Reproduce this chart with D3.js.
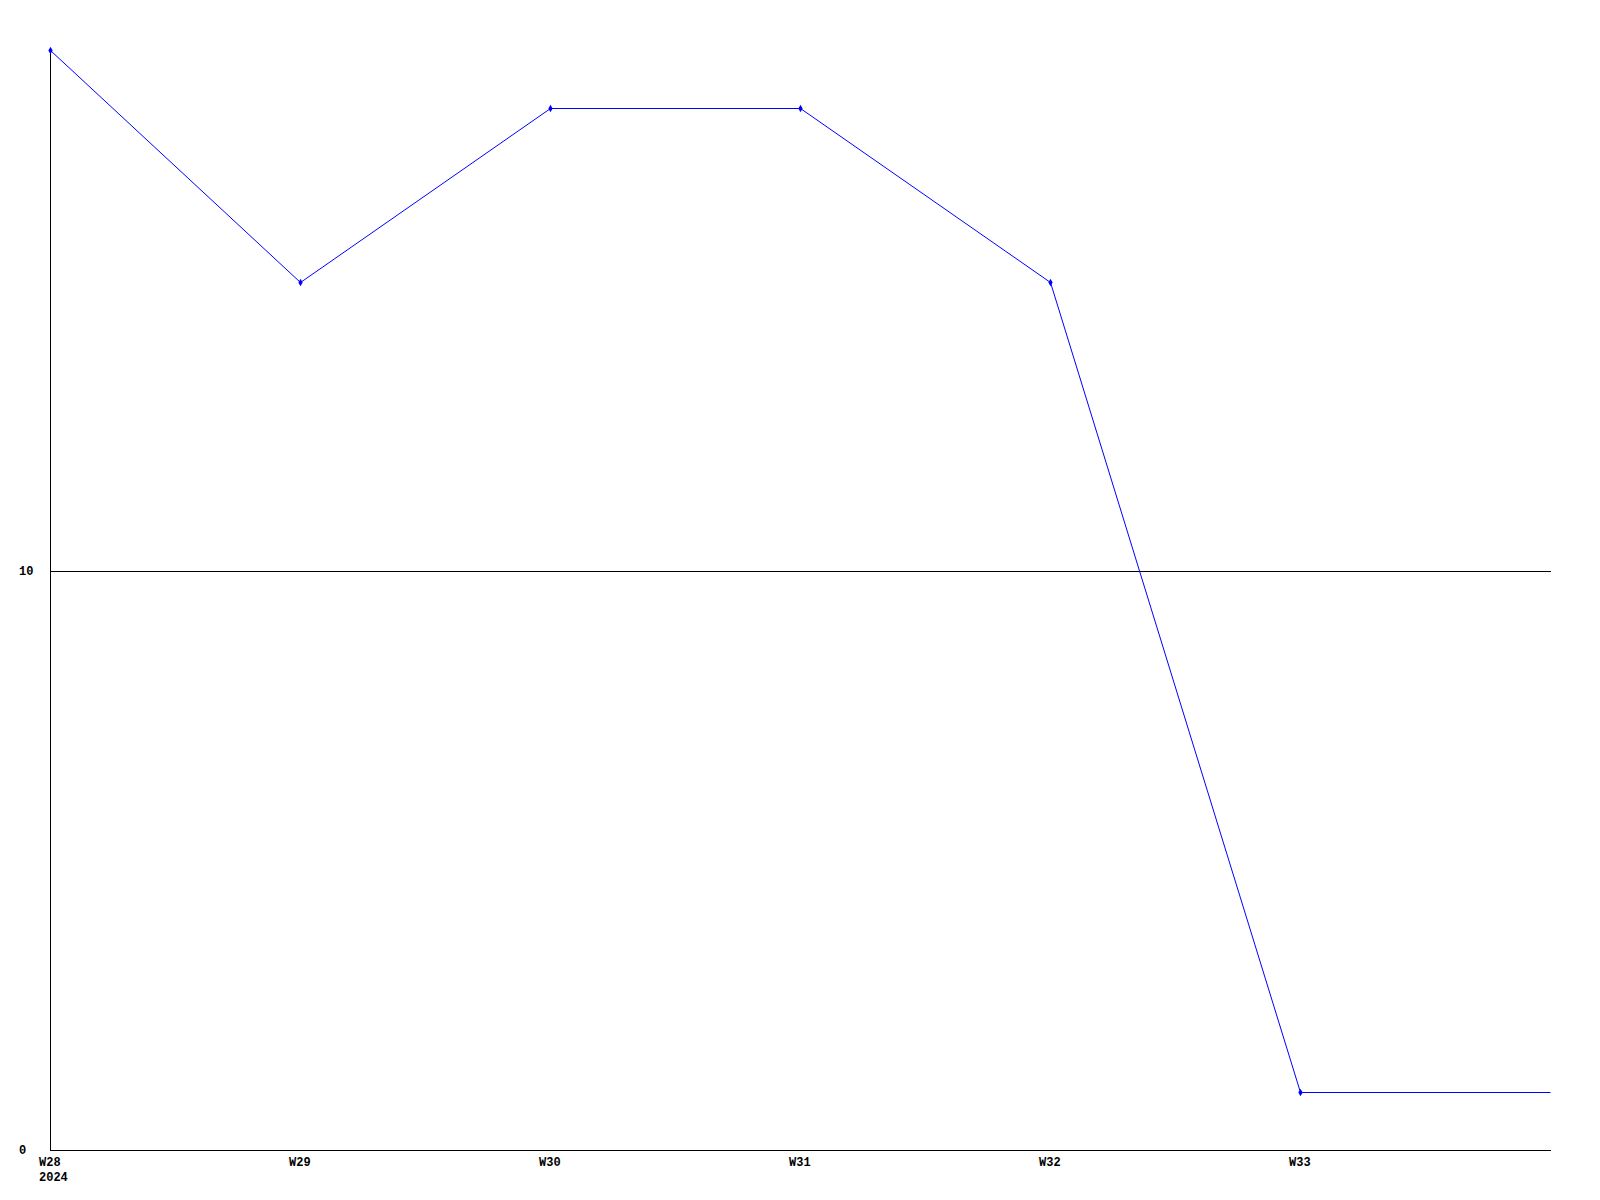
<!DOCTYPE html>
<html>
<head>
<meta charset="utf-8">
<script src="https://cdn.jsdelivr.net/npm/d3@7"></script>
<style>
html, body { margin: 0; padding: 0; background: #fff; }
text { font-family: "Liberation Mono", "DejaVu Sans Mono", monospace; font-weight: bold; font-size: 12px; fill: #000; }
</style>
</head>
<body>
<script>
const weeks = [28, 29, 30, 31, 32, 33];
const weekLabels = ["W28", "W29", "W30", "W31", "W32", "W33"];
const yearLabel = "2024";
const values = [19, 15, 18, 18, 15, 1];
const yTicks = [0, 10];
const xDomainEnd = 34;

(function () {
const W = 1600, H = 1200;
const mLeft = 50, mRight = 1550, mTop = 50, mBottom = 1150;

const svg = d3.select("body").append("svg").attr("width", W).attr("height", H).style("display", "block");

const x = d3.scaleLinear().domain([28, xDomainEnd]).range([mLeft, mRight]);
const y = d3.scaleLinear().domain([0, 19]).range([mBottom, mTop]);

// grid lines
svg.append("g").selectAll("line").data(yTicks.filter(d => d !== 0)).join("line")
  .attr("x1", mLeft).attr("x2", mRight + 1)
  .attr("y1", d => Math.round(y(d)) + 0.5).attr("y2", d => Math.round(y(d)) + 0.5)
  .attr("stroke", "#000").attr("stroke-width", 1);

// axes
svg.append("line").attr("x1", mLeft + 0.5).attr("x2", mLeft + 0.5).attr("y1", mTop).attr("y2", mBottom + 0.5)
  .attr("stroke", "#000");
svg.append("line").attr("x1", mLeft).attr("x2", mRight + 1).attr("y1", mBottom + 0.5).attr("y2", mBottom + 0.5)
  .attr("stroke", "#000");

// y labels
svg.append("g").selectAll("text").data(yTicks).join("text")
  .attr("x", 19).attr("y", d => y(d) + 4)
  .text(d => d);

// x labels
const xl = svg.append("g");
xl.selectAll("text.wk").data(weeks).join("text").attr("class", "wk")
  .attr("x", d => x(d) - 11).attr("y", mBottom + 16)
  .text((d, i) => weekLabels[i]);
xl.append("text").attr("x", x(weeks[0]) - 11).attr("y", mBottom + 31).text(yearLabel);

// line (extends last value to the right edge)
const pts = weeks.map((w, i) => [w, values[i]]);
pts.push([xDomainEnd, values[values.length - 1]]);
const line = d3.line().x(d => x(d[0]) + 0.5).y(d => Math.round(y(d[1])) + 0.5);
svg.append("path").attr("d", line(pts)).attr("fill", "none").attr("stroke", "#0000ff").attr("stroke-width", 1);

// markers
svg.append("g").selectAll("path").data(weeks).join("path")
  .attr("transform", (d, i) => `translate(${x(d) + 0.5},${Math.round(y(values[i])) + 0.5})`)
  .attr("d", d3.symbol().type(d3.symbolDiamond).size(16))
  .attr("fill", "#0000ff");
})();
</script>
</body>
</html>
